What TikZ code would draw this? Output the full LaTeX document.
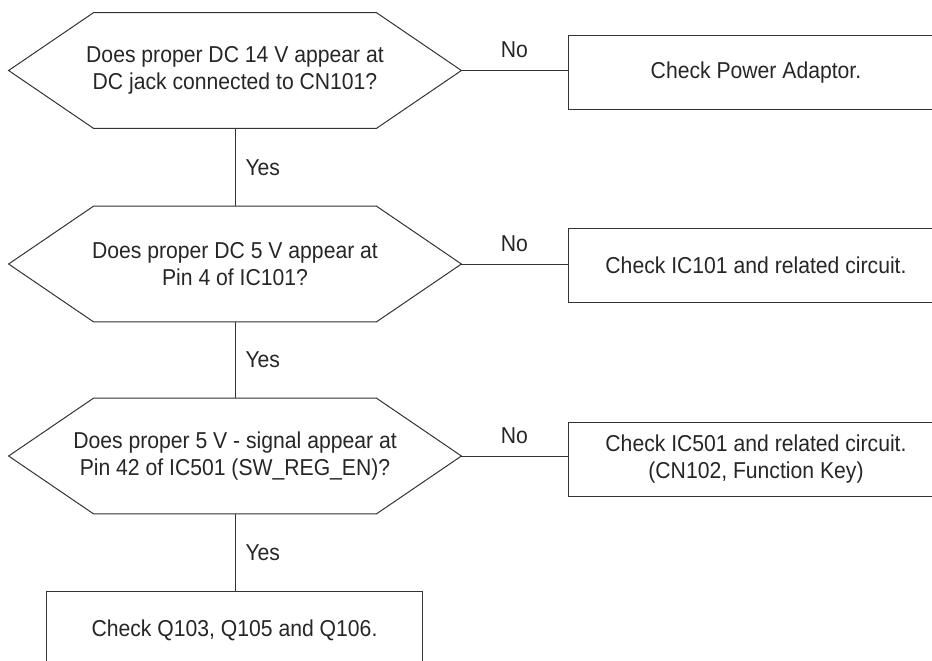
\documentclass[tikz,border=0pt]{standalone}
\usepackage{fontspec}
\setmainfont[FakeStretch=0.92]{Liberation Sans}
\tikzset{
  ask/.style={rectangle, minimum width=226pt, minimum height=57.5pt,
    inner sep=0pt, align=center, text=black!85},
  todo/.style={rectangle, draw=black!80, line width=0.5pt, minimum width=188pt,
    minimum height=37pt, inner sep=0pt, align=center, text=black!85},
  link/.style={draw=black!80, line width=0.5pt},
  tag/.style={text=black!85, inner sep=3pt}
}
\begin{document}
\begin{tikzpicture}[x=0.5pt, y=-0.5pt, font=\fontsize{11.5}{13.5}\selectfont]
    % page frame (right boxes and last box run off the edge)
    \useasboundingbox (0,0) rectangle (932,660);
    \clip (0,0) rectangle (932,660);
    % questions
    \node[ask] (q1) at (235,70.5) {Does proper DC 14 V appear at\\DC jack connected to CN101?};
    \node[ask] (q2) at (235,264) {Does proper DC 5 V appear at\\Pin 4 of IC101?};
    \node[ask] (q3) at (235,456) {Does proper 5 V - signal appear at\\Pin 42 of IC501 (SW\_REG\_EN)?};
    % hexagon outlines
    \foreach \q in {q1,q2,q3}
      \draw[link] (\q.west) -- ([xshift=42.5pt]\q.north west) -- ([xshift=-42.5pt]\q.north east)
        -- (\q.east) -- ([xshift=-42.5pt]\q.south east) -- ([xshift=42.5pt]\q.south west) -- cycle;
    % actions
    \node[todo] (b1) at (756,72.5) {Check Power Adaptor.};
    \node[todo] (b2) at (756,265) {Check IC101 and related circuit.};
    \node[todo] (b3) at (756,459) {Check IC501 and related circuit.\\(CN102, Function Key)};
    \node[todo, minimum height=39pt] (b4) at (234.5,630) {Check Q103, Q105 and Q106.};
    % no branches
    \draw[link] (q1.east) -- (b1.west |- q1.east) node[tag, midway, above, yshift=3pt] {No};
    \draw[link] (q2.east) -- (b2.west |- q2.east) node[tag, midway, above, yshift=3pt] {No};
    \draw[link] (q3.east) -- (b3.west |- q3.east) node[tag, midway, above, yshift=3pt] {No};
    % yes branches
    \draw[link] (q1.south) -- (q2.north) node[tag, midway, right, xshift=2pt] {Yes};
    \draw[link] (q2.south) -- (q3.north) node[tag, midway, right, xshift=2pt] {Yes};
    \draw[link] (q3.south) -- (b4.north -| q3.south) node[tag, midway, right, xshift=2pt] {Yes};
\end{tikzpicture}
\end{document}
